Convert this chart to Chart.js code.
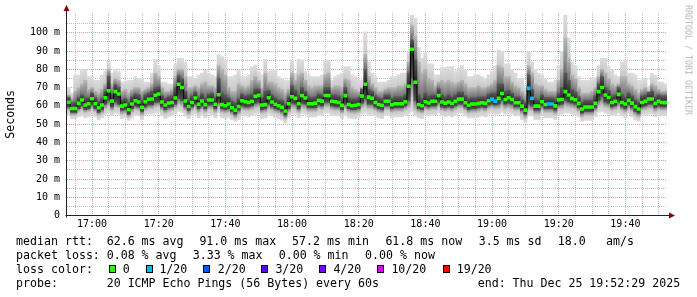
<!DOCTYPE html>
<html>
<head>
<meta charset="utf-8">
<script src="https://cdn.jsdelivr.net/npm/chart.js@4"></script>
<style>
  html, body { margin: 0; padding: 0; background: #fff; }
  #wrap { position: relative; width: 697px; height: 297px; overflow: hidden; background: #fff; }
  #c { position: absolute; left: 0; top: 0; }
  .t { position: absolute; font-family: "DejaVu Sans Mono", monospace; font-size: 11.6px; line-height: 12px; white-space: pre; color: #000; }
  .box { position: absolute; width: 7px; height: 8px; box-sizing: border-box; border: 1px solid #000; }
  #wm { position: absolute; left: 688px; top: 60px; transform: translate(-50%, -50%) rotate(90deg);
        font-family: "DejaVu Sans Mono", monospace; font-size: 8.3px; line-height: 9px; color: #b4b4b4; white-space: nowrap; }
</style>
</head>
<body>
<div id="wrap">
  <canvas id="c" width="697" height="297"></canvas>
  <div id="wm">RRDTOOL / TOBI OETIKER</div>
  <div id="legend"></div>
</div>
<script>
// ---- time window (minutes) ----
const startClock = 16 * 60 + 52 + 29 / 60;   // 16:52:29
const spanMinutes = 180;                      // to 19:52:29

// ---- tick labels ----
const xTickLabels = ['17:00', '17:20', '17:40', '18:00', '18:20', '18:40', '19:00', '19:20', '19:40'];
const yTickLabels = ['0', '10 m', '20 m', '30 m', '40 m', '50 m', '60 m', '70 m', '80 m', '90 m', '100 m'];

// ---- median rtt per minute (ms) ----
const median = [
  62.0,58.6,58.6,61.4,63.2,60.5,61.2,63.9,61.2,59.0,
  60.5,64.5,68.3,62.7,67.8,66.5,59.9,60.5,57.9,61.0,
  62.8,62.1,59.2,62.3,63.6,63.8,65.8,66.5,62.1,60.5,
  61.6,61.9,64.3,71.8,70.1,62.7,59.7,61.9,64.3,60.9,
  62.7,60.7,63.2,63.2,60.9,66.1,60.7,60.1,61.0,59.0,
  57.7,59.7,62.8,62.3,61.9,62.5,65.2,65.8,60.5,60.7,
  64.5,62.1,60.9,60.1,59.2,57.2,61.2,65.0,64.1,61.2,
  65.6,64.3,61.2,61.2,61.5,63.0,62.6,65.7,65.7,62.5,
  62.3,61.9,60.3,65.6,60.8,60.1,60.4,60.8,65.4,71.8,
  64.8,64.1,61.9,60.8,60.4,62.5,62.5,60.6,61.2,61.2,
  61.2,62.3,70.7,91.0,72.9,60.8,60.1,62.3,61.6,62.5,
  62.5,65.6,62.1,61.5,62.1,61.3,62.5,63.7,63.7,61.7,
  60.4,61.0,61.0,61.4,61.7,61.4,62.8,63.7,62.6,64.1,
  66.8,63.5,64.5,63.5,61.7,61.7,59.9,57.7,69.6,64.1,
  59.9,59.9,62.3,60.8,61.0,61.0,60.0,63.3,63.5,67.8,
  66.0,64.1,63.4,61.4,58.3,59.4,59.4,59.4,61.4,67.8,
  70.1,66.0,64.6,61.9,62.5,66.3,61.9,61.0,63.0,61.5,
  59.6,58.3,61.9,62.5,63.8,63.8,61.4,62.5,61.9,61.8
];

// ---- lost pings per minute (out of 20) ----
const lossCount = [
  0,0,0,0,0,0,0,0,0,0, 0,0,0,0,0,0,0,0,0,0,
  0,0,0,0,0,0,0,0,0,0, 0,0,0,0,0,0,0,0,0,0,
  0,0,0,0,0,0,0,0,0,0, 0,0,0,0,0,0,0,0,0,0,
  0,0,0,0,0,0,0,0,0,0, 0,0,0,0,0,0,0,0,0,0,
  0,0,0,0,0,0,0,0,0,0, 0,0,0,0,0,0,0,0,0,0,
  0,0,0,0,0,0,0,0,0,0, 0,0,0,0,0,0,0,0,0,0,
  0,0,0,0,0,0,0,1,1,0, 0,0,0,0,0,0,0,0,1,1,
  0,0,0,0,1,1,0,0,0,0, 0,0,0,0,0,0,0,0,0,0,
  0,0,0,0,0,0,0,0,0,0, 0,0,0,0,0,0,0,0,0,0
];

// ---- smoke: spread of the 20 pings per minute (ms) ----
const smokeMax = [
  70,67,77,77,80,80,76,76,74,74,
  77,79,84.5,78,80,79,73,73,74,74,
  76,75,75,73,73,78,85.5,82,73,73,
  72,72,83,86,86,84,76,76,75,77,
  78,79.5,78,77,76,88,87,85,76,76,
  77,79.5,76,76,77,81.5,82.5,79,77,85.5,
  79,80,80,76,75,74,74,85,78,85.5,
  85,79,77,76,76,76,77,85,85,74,
  76,77,78,81.5,81.5,77,76,74,74,100.5,
  84,78,76,73,73,73,74,76,76,77,
  78,78,90,109.7,108,92,86,89,83,83,
  77,77,81,81,81.5,81.5,79,80.5,82,80,
  76,76,77,77,76,75,77,79,82,90.5,
  90,83,83,80,78,75,75,71,89.6,84,
  80,78,77,75,73,73,74,82,89.6,109.7,
  97,84,82,76,74,74,74,75.5,75.5,82,
  86,86,81.5,80,77,76,84,85,78,78,
  77,74,74,75,71,77.8,76.8,73,73,72
];
const smokeUpper = [
  66,64,68,70,72,74,69,70,68,67,
  69,72,80,72,75,74,68,69,67,69,
  70,70,68,69,70,72,78,76,70,68,
  68,69,76,80,80,76,70,70,71,70,
  72,73,71,71,70,82,80,77,70,68,
  68,72,71,70,71,74,76,74,70,78,
  73,73,72,70,69,67,69,78,74,77,
  78,74,71,70,71,71,71,77,78,70,
  71,71,70,75,74,70,69,68,70,88,
  76,72,70,68,68,69,70,70,70,71,
  71,72,84,104,98,84,78,80,75,74,
  71,73,74,73,74,73,72,73,74,72,
  70,70,70,71,70,70,71,72,74,82,
  81,76,76,73,71,70,68,66,82,78,
  72,71,71,69,68,68,68,74,80,97,
  86,77,75,70,67,67,67,68,70,76,
  80,78,75,72,71,72,76,76,72,71,
  69,67,69,70,68,72,71,69,68,68
];
const coreUpper = [
  64.5,61.5,62,64.5,66,64.5,64.5,67,64.5,62.5,
  64,68,76,66.5,71.5,70,63.5,64,62,65,
  66.5,66,63,66,67,68,70,70.5,65.5,64,
  65,65.5,70,76.5,75,68,63.5,65.5,67.5,64.5,
  66.5,64.5,66.5,67,64.5,75,67,66,64.5,62.5,
  61.5,64,66.5,65.5,66,66.5,69.5,69.5,64.5,68,
  68.5,66,64.5,63.5,63,61,65,71,68.5,66,
  70,68,65,64.5,65,66.5,66,70,70,66,
  66,65.5,64,70,64.5,64,64,64.5,69,80,
  69,68,65.5,64.5,64,66,66,64,65,65,
  65,66,78,96,85,66,64,67,65.5,66,
  66,69.5,66,65,66,65,66,67.5,67.5,65.5,
  64,64.5,64.5,65,65,65,66.5,67,67,72,
  72,68,68.5,67,65,65,63.5,61.5,77,69,
  64,63.5,66,64.5,64.5,64.5,64,67,70,78,
  74,69,67.5,65,62,63,63,63,65.5,72,
  76,70,68.5,65.5,66,70,66,65,67,65.5,
  63.5,62,65.5,66,67.5,68,65,66,65.5,65.5
];
const coreLower = [
  59.5,56.5,56.5,58.5,60,58,58.5,60.5,58.5,56.5,
  58,61,63,59.5,62,61,57.5,58,55.5,58.5,
  60,59.5,57,59.5,60.5,60.5,62,62,59.5,58,
  59,59.5,61,64,63,59.5,57.5,59.5,61,58.5,
  60,58.5,60.5,60.5,58.5,62,58.5,58,58.5,57,
  55.5,57.5,60,59.5,59.5,60,61.5,62,58,58.5,
  61,59.5,58.5,58,57,55,58.5,61.5,61,58.5,
  61.5,61,59,59,59,60.5,60,62,62,60,
  59.5,59.5,58,61,58.5,58,58,58.5,61.5,64,
  61,61,59.5,58.5,58,60,60,58.5,59,59,
  59,60,63,75,63,58.5,58,60,59.5,60,
  60,62,59.5,59,59.5,59,60,61,61,59.5,
  58,58.5,58.5,59,59.5,59,60.5,61,60.5,61,
  63,61,61.5,61,59.5,59.5,57.5,55.5,61,60,
  57.5,57.5,60,58.5,58.5,58.5,57.5,60.5,61,63,
  62,61.5,61,59,56,57,57,57,59,63,
  65,62,61.5,59.5,60,62,59.5,58.5,60.5,59,
  57,56,59.5,60,61,61,59,60,59.5,59.5
];
const smokeLower = [
  57.5,55,55,57,58,56.5,57,58.5,57,55,
  56,58.5,60,57.5,59.5,59,55.5,56,54,56.5,
  58,57.5,55,57.5,58.5,58.5,59.5,60,57.5,56,
  57,57.5,59,61,60,57.5,55.5,57.5,59,56.5,
  58,56.5,58.5,58.5,56.5,59.5,56.5,56,56.5,55,
  53.5,55.5,58,57.5,57.5,58,59,59.5,56,56.5,
  58.5,57.5,56.5,56,55,53,56.5,59,58.5,56.5,
  59,58.5,57,57,57,58.5,58,59.5,59.5,58,
  57.5,57.5,56,58.5,56.5,56,56,56.5,59,60,
  58.5,58.5,57.5,56.5,56,58,58,56.5,57,57,
  57,58,59,65,58,56.5,56,58,57.5,58,
  58,59.5,57.5,57,57.5,57,58,59,59,57.5,
  56,56.5,56.5,57,57.5,57,58.5,59,58.5,58.5,
  60,58.5,59,58.5,57.5,57.5,55.5,53.5,57.5,57.5,
  55.5,55.5,58,56.5,56.5,56.5,55.5,58.5,58.5,60,
  59.5,59,58.5,57,54,55,55,55,57,60,
  61,59.5,59,57.5,58,59.5,57.5,56.5,58.5,57,
  55,54,57.5,58,58.5,58.5,57,58,57.5,57.5
];
const smokeMin = [
  55,53,53,54,54.5,53.5,54,55,54,52.5,
  53.5,55,56,54.5,56,55.5,53,53.5,52,53.5,
  55,54.5,52.5,54.5,55.5,55.5,56,56.5,54.5,53,
  54,54.5,55.5,57,56.5,54.5,53,54.5,55.5,53.5,
  55,53.5,55.5,55,53.5,56,53.5,53,53.5,52.5,
  51.5,52.5,55,54.5,54,54.5,55.5,56,53,53.5,
  55.5,54.5,53.5,53,52,50.5,53.5,55.5,55.5,53.5,
  56,55.5,54,54,54,55,55,56,56,55,
  54.5,54.5,53,55,53.5,53,53,53.5,55.5,56,
  55,55,54.5,53.5,53,55,55,53.5,54,54,
  54,55,55.5,57,54.5,53.5,53,55,54.5,55,
  55,56,54.5,54,54.5,54,55,56,56,54.5,
  53.5,53.5,53.5,54,54.5,54,55.5,56,55.5,55.5,
  56.5,55.5,56,55.5,54.5,54.5,52.5,51,54.5,54.5,
  52.5,52.5,55,53.5,53.5,53.5,52.5,55,55.5,56,
  56,55.5,55,54,51.5,52,52,52,54,56.5,
  57,56,55.5,54.5,55,56,54.5,53.5,55.5,54,
  52.5,51.5,54.5,55,55.5,55.5,54,55,54.5,54.5
];

// ---- loss colour legend ----
const lossLevels = [0, 1, 2, 3, 4, 10, 19];
const lossLabels = ['0', '1/20', '2/20', '3/20', '4/20', '10/20', '19/20'];
const lossColors = ['#26ff00', '#00b8ff', '#0059ff', '#5e00ff', '#7e00ff', '#dd00ff', '#ff0000'];

// ---- legend texts ----
const rttStats = ['62.6 ms avg', '91.0 ms max', '57.2 ms min', '61.8 ms now', '3.5 ms sd', '18.0', 'am/s'];
const lossStats = ['0.08 % avg', '3.33 % max', '0.00 % min', '0.00 % now'];
const probeText = '20 ICMP Echo Pings (56 Bytes) every 60s';
const endText = 'end: Thu Dec 25 19:52:29 2025';

// ---------------- build legend (HTML text) ----------------
(function buildLegend() {
  const L = document.getElementById('legend');
  function txt(x, top, s) {
    const d = document.createElement('div');
    d.className = 't'; d.style.left = x + 'px'; d.style.top = top + 'px'; d.textContent = s;
    L.appendChild(d);
  }
  const rows = [235.3, 249.3, 263.3, 277.2];
  txt(16.1, rows[0], 'median rtt:');
  [106.7, 199.4, 292.1, 385.4, 478.7, 557.7, 606.1].forEach((x, i) => txt(x, rows[0], rttStats[i]));
  txt(16.1, rows[1], 'packet loss:');
  [106.7, 192.7, 278.7, 365.1].forEach((x, i) => txt(x, rows[1], lossStats[i]));
  txt(16.1, rows[2], 'loss color:');
  const boxX = [108.7, 145.7, 203.3, 261.3, 319.3, 377.3, 442.7];
  const labX = [122.7, 159.4, 217.7, 275.4, 333.4, 391.4, 456.7];
  lossLevels.forEach((lv, i) => {
    const b = document.createElement('div');
    b.className = 'box'; b.style.left = boxX[i] + 'px'; b.style.top = '265px';
    b.style.background = lossColors[i];
    L.appendChild(b);
    txt(labX[i], rows[2], lossLabels[i]);
  });
  txt(16.1, rows[3], 'probe:');
  txt(106.7, rows[3], probeText);
  txt(477.7, rows[3], endText);
})();

// ---------------- chart ----------------
function colorForLoss(n) {
  const idx = lossLevels.indexOf(n);
  return lossColors[idx >= 0 ? idx : 0];
}
// vertical shading inside each bar: stops = [[fraction from top, colour], ...]
function shade(loArr, hiArr, stops, midArr) {
  return (ctx) => {
    const fallback = stops[stops.length - 1][1];
    if (ctx.type !== 'data') return fallback;
    const ys = ctx.chart.scales.y;
    const i = ctx.dataIndex;
    const yTop = ys.getPixelForValue(hiArr[i]);
    const yBot = ys.getPixelForValue(loArr[i]);
    if (!isFinite(yTop) || !isFinite(yBot) || yBot - yTop < 0.5) return fallback;
    const g = ctx.chart.ctx.createLinearGradient(0, yTop, 0, yBot);
    stops.forEach(([f, c]) => {
      let pos = f;
      if (f === 'mid' && midArr) {
        pos = (ys.getPixelForValue(midArr[i]) - yTop) / (yBot - yTop);
        pos = Math.min(1, Math.max(0, pos));
      }
      g.addColorStop(pos, c);
    });
    return g;
  };
}
function band(lo, hi, color, order) {
  return {
    type: 'bar',
    data: lo.map((v, i) => ({ x: i + 0.5, y: [v, hi[i]] })),
    backgroundColor: color, borderWidth: 0,
    barPercentage: 1, categoryPercentage: 1, grouped: false, order
  };
}

const firstGrid = Math.ceil(startClock / 5) * 5 - startClock;
const xGrid = [];
for (let v = firstGrid; v < spanMinutes; v += 5) xGrid.push(v);
const yGrid = [];
for (let v = 0; v <= 105; v += 5) yGrid.push(v);

function clockOf(v) { return Math.round(startClock + v); }
function xLabel(v) {
  const c = clockOf(v);
  if (c % 20 !== 0) return '';
  const idx = (c - 17 * 60) / 20;
  return xTickLabels[idx] || '';
}

const MAJOR = 'rgba(232,110,110,0.75)';
const MINOR = 'rgba(170,170,170,0.75)';

const arrowPlugin = {
  id: 'rrdAxes',
  afterDraw(chart) {
    const { ctx, chartArea: a } = chart;
    const ax = Math.floor(a.left) - 0.5;
    const ay = Math.floor(a.bottom) + 0.5;
    ctx.save();
    ctx.strokeStyle = '#222';
    ctx.lineWidth = 1;
    ctx.beginPath();
    ctx.moveTo(ax - 1, ay); ctx.lineTo(a.right + 3, ay);
    ctx.moveTo(ax, ay + 2); ctx.lineTo(ax, a.top - 3);
    ctx.stroke();
    ctx.fillStyle = '#800000';
    ctx.beginPath();
    ctx.moveTo(a.right + 2, ay - 3); ctx.lineTo(a.right + 8, ay); ctx.lineTo(a.right + 2, ay + 3); ctx.closePath();
    ctx.fill();
    ctx.beginPath();
    ctx.moveTo(ax - 3, a.top - 2); ctx.lineTo(ax, a.top - 8); ctx.lineTo(ax + 3, a.top - 2); ctx.closePath();
    ctx.fill();
    ctx.restore();
  }
};

new Chart(document.getElementById('c'), {
  type: 'bar',
  data: {
    datasets: [
      {
        type: 'bar',
        data: median.map((v, i) => ({ x: i + 0.5, y: [v - 0.8, v + 0.8] })),
        backgroundColor: lossCount.map(colorForLoss), borderWidth: 0,
        barPercentage: 1, categoryPercentage: 1, grouped: false, order: 0
      },
      {
        type: 'line',
        data: median.map((v, i) => ({ x: i + 0.5, y: v })),
        borderColor: '#000', borderWidth: 1, pointRadius: 0, stepped: 'middle', fill: false, order: 1
      },
      band(coreLower, coreUpper, shade(coreLower, coreUpper, [[0, '#5a5a5a'], ['mid', '#222222'], [1, '#505050']], median), 2),
      band(coreUpper, smokeUpper, shade(coreUpper, smokeUpper, [[0, '#b6b6b6'], [1, '#6e6e6e']]), 3),
      band(smokeLower, coreLower, shade(smokeLower, coreLower, [[0, '#727272'], [1, '#bcbcbc']]), 3),
      band(smokeUpper, smokeMax, shade(smokeUpper, smokeMax, [[0, '#dddddd'], [1, '#c9c9c9']]), 4),
      band(smokeMin, smokeLower, shade(smokeMin, smokeLower, [[0, '#c9c9c9'], [1, '#dddddd']]), 4)
    ]
  },
  options: {
    responsive: false,
    animation: false,
    events: [],
    layout: { padding: { left: 0, right: 30, top: 13, bottom: 66.3 } },
    plugins: { legend: { display: false }, tooltip: { enabled: false } },
    scales: {
      x: {
        type: 'linear', min: 0, max: spanMinutes, offset: false,
        afterFit(s) { s.height = 15; },
        afterBuildTicks(s) { s.ticks = xGrid.map(v => ({ value: v })); },
        ticks: {
          autoSkip: false, maxRotation: 0, minRotation: 0, padding: 3,
          font: { family: 'DejaVu Sans Mono', size: 10 }, color: '#000',
          callback: (v) => xLabel(v)
        },
        grid: {
          offset: false, drawTicks: false, lineWidth: 1,
          color: (ctx) => (ctx.tick && clockOf(ctx.tick.value) % 20 === 0) ? MAJOR : MINOR
        },
        border: { display: false, dash: [1, 1] }
      },
      y: {
        type: 'linear', min: 0, max: 110.77,
        afterFit(s) { s.width = 67; },
        afterBuildTicks(s) { s.ticks = yGrid.map(v => ({ value: v })); },
        ticks: {
          autoSkip: false, padding: 7,
          font: { family: 'DejaVu Sans Mono', size: 10 }, color: '#000',
          callback: (v) => (Math.round(v) % 10 === 0 ? yTickLabels[Math.round(v) / 10] : '')
        },
        grid: {
          drawTicks: false, lineWidth: 1,
          color: (ctx) => (ctx.tick && Math.round(ctx.tick.value) % 10 === 0) ? MAJOR : MINOR
        },
        border: { display: false, dash: [1, 1] },
        title: {
          display: true, text: 'Seconds', color: '#000',
          font: { family: 'DejaVu Sans Mono', size: 11.6 }, padding: { top: 4, bottom: 4 }
        }
      }
    }
  },
  plugins: [arrowPlugin]
});
</script>
</body>
</html>
